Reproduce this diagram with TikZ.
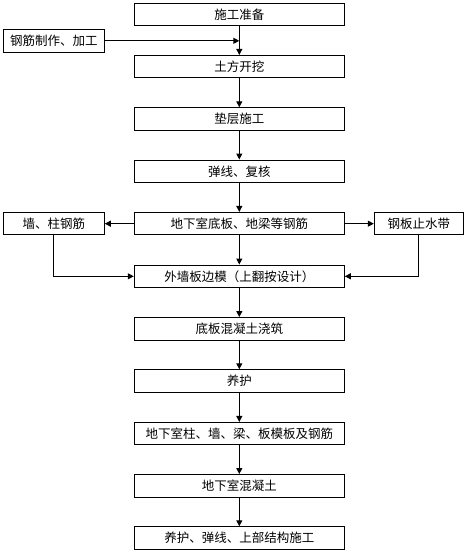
\documentclass[tikz,border=0pt]{standalone}
\usepackage{fontspec}
\setmainfont{Noto Sans CJK SC}
\usetikzlibrary{arrows.meta}
\tikzset{
  box/.style={draw, line width=1pt, rectangle, minimum height=22.5pt, inner sep=0pt, font=\fontsize{12.5pt}{14pt}\selectfont},
  mainbox/.style={box, minimum width=210pt},
  sidebox/.style={box, minimum width=101pt},
  sidebox2/.style={box, minimum width=89pt},
  conn/.style={line width=1pt, -{Triangle[length=6pt,width=6pt]}},
  line/.style={line width=1pt}
}
\begin{document}
\begin{tikzpicture}[x=1pt,y=-1pt]
\useasboundingbox (0,0) rectangle (467,552);
\node[mainbox] (n1) at (239.3,14.3) {施工准备};
\node[mainbox] (n2) at (239.3,66.7) {土方开挖};
\node[mainbox] (n3) at (239.3,119) {垫层施工};
\node[mainbox] (n4) at (239.3,171.3) {弹线、复核};
\node[mainbox] (n5) at (239.3,223.7) {地下室底板、地梁等钢筋};
\node[mainbox] (n6) at (239.3,276.3) {外墙板边模（上翻按设计）};
\node[mainbox] (n7) at (239.3,328.8) {底板混凝土浇筑};
\node[mainbox] (n8) at (239.3,381) {养护};
\node[mainbox] (n9) at (239.3,433.7) {地下室柱、墙、梁、板模板及钢筋};
\node[mainbox] (n10) at (239.3,485.8) {地下室混凝土};
\node[mainbox] (n11) at (239.3,538) {养护、弹线、上部结构施工};
\node[sidebox] (s1) at (53.8,40.8) {钢筋制作、加工};
\node[sidebox] (s2) at (53.8,223.7) {墙、柱钢筋};
\node[sidebox2] (s3) at (418.8,223.7) {钢板止水带};
\coordinate (j1) at (n1.south |- s1.east);
\draw[conn] (s1.east) -- (j1);
\draw[conn] (n1) -- (n2);
\draw[conn] (n2) -- (n3);
\draw[conn] (n3) -- (n4);
\draw[conn] (n4) -- (n5);
\draw[conn] (n5) -- (n6);
\draw[conn] (n6) -- (n7);
\draw[conn] (n7) -- (n8);
\draw[conn] (n8) -- (n9);
\draw[conn] (n9) -- (n10);
\draw[conn] (n10) -- (n11);
\draw[conn] (n5.west) -- (s2.east);
\draw[conn] (n5.east) -- (s3.west);
\draw[conn] (s2.south) |- (n6.west);
\draw[conn] (s3.south) |- (n6.east);
\end{tikzpicture}
\end{document}
